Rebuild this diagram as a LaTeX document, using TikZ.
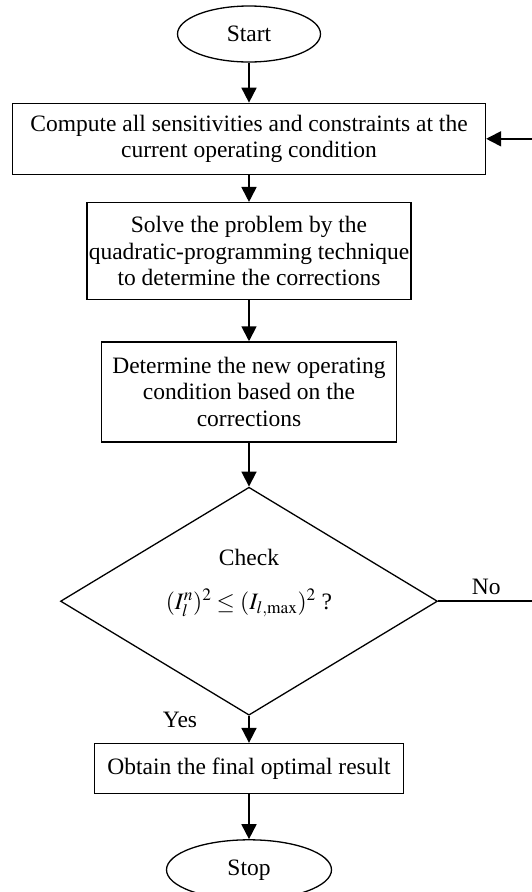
\documentclass[tikz,border=0pt]{standalone}
\usepackage{mathptmx}
\usepackage[no-math]{fontspec}
\setmainfont{Liberation Serif}
\usetikzlibrary{arrows.meta,positioning,shapes.geometric}
\tikzset{
    %Define standard arrow tip
    >={Triangle[length=15pt,width=15pt]},
    %Define style for boxes
    stepbox/.style={
           rectangle,
           draw=black, line width=1.3pt,
           inner sep=0pt,
           align=center,
           font=\fontsize{23.5}{26.5}\selectfont},
    terminal/.style={
           ellipse,
           draw=black, line width=1.3pt,
           inner sep=0pt,
           font=\fontsize{23.5}{26.5}\selectfont},
    decision/.style={
           diamond,
           aspect=1.65,
           draw=black, line width=1.3pt,
           inner sep=0pt,
           align=center,
           font=\fontsize{23.5}{26.5}\selectfont},
    % Define arrow style
    pil/.style={
           ->,
           line width=1.8pt}
}
\begin{document}
\begin{tikzpicture}[every node/.style={font=\fontsize{23.5}{26.5}\selectfont}]
\useasboundingbox (0,0) rectangle (532pt,-892pt);
 %nodes
\node[terminal, minimum width=143pt, minimum height=56pt] (start) at (249pt,-34pt) {Start};
\node[stepbox, below=40pt of start, minimum width=473pt, minimum height=71pt] (compute)
    {Compute all sensitivities and constraints at the\\current operating condition};
\node[stepbox, below=27pt of compute, minimum width=324pt, minimum height=97pt] (solve)
    {Solve the problem by the\\quadratic-programming technique\\to determine the corrections};
\node[stepbox, below=41pt of solve, minimum width=295pt, minimum height=100pt] (update)
    {Determine the new operating\\condition based on the\\corrections};
\node[decision, below=44pt of update, minimum width=377pt, minimum height=228pt] (check)
    {Check\\[17.5pt]$(I_l^n)^2\le(I_{l,\max})^2$ ?\\[17.5pt]\mbox{}};
\node[stepbox, below=27pt of check, minimum width=309pt, minimum height=50pt] (obtain)
    {Obtain the final optimal result};
\node[terminal, below=45pt of obtain, minimum width=165pt, minimum height=60pt] (stop) {Stop};

\node (yes) at ([xshift=-69pt,yshift=-4pt]check.south) {Yes};
\coordinate (turn) at ([xshift=96pt]check.east);

 \path (start) edge[pil] (compute)
    (compute) edge[pil] (solve)
    (solve) edge[pil] (update)
    (update) edge[pil] (check)
    (check) edge[pil] (obtain)
    (obtain) edge[pil] (stop);
 \draw[pil] (check.east) -- node[above=2pt] {No} (turn) |- (compute.east);

\end{tikzpicture}
\end{document}
